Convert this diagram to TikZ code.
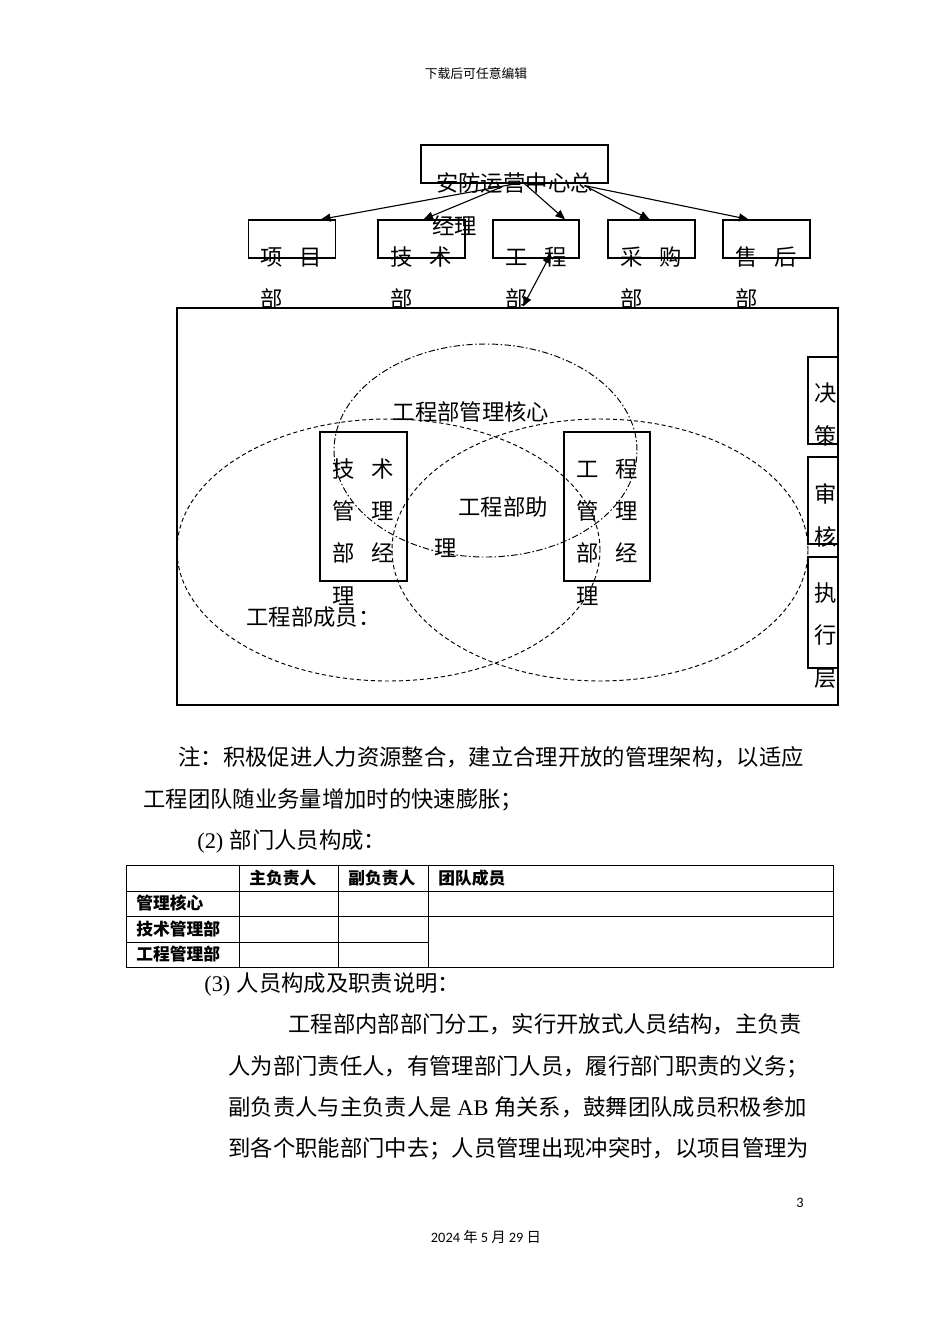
\documentclass[tikz,border=0pt]{standalone}
\usepackage{fontspec}
\setmainfont{Noto Sans CJK SC}
\newfontfamily\latser{Liberation Serif}
\newfontfamily\latsans{Carlito}
\usetikzlibrary{arrows.meta,calc,shapes.geometric}
\newcommand\bodysz{\fontsize{14pt}{16pt}\selectfont}
\def\pxu{0.6266pt}
\begin{document}
\begin{tikzpicture}[x=0.6266pt,y=-0.6266pt,
  bx/.style 2 args={draw, line width=0.8pt, inner sep=0, minimum width=#1*\pxu, minimum height=#2*\pxu},
  el/.style 2 args={draw, ellipse, inner sep=0, line width=0.6pt, minimum width=#1*\pxu, minimum height=#2*\pxu},
  dd/.style={dash pattern=on 4pt off 1.5pt on 1pt off 1.5pt},
  memb/.style={dash pattern=on 2.6pt off 1.8pt},
  ch/.style={inner sep=0, font=\bodysz, text height=11.6pt, text depth=1pt},
  ln/.style={ch, anchor=west},
  tb/.style={inner sep=0, anchor=west, font=\fontsize{10.5pt}{12pt}\selectfont\bfseries, text height=8.7pt, text depth=0.7pt},
  arr/.style={line width=0.7pt, -{Triangle[length=6pt,width=5pt]}},
  darr/.style={line width=0.7pt, {Triangle[length=6pt,width=5pt]}-{Triangle[length=6pt,width=5pt]}},
  tl/.style={line width=0.6pt}]
\useasboundingbox (0,0) rectangle (950,1344);
\fill[white] (0,0) rectangle (950,1344);

% header
\node[inner sep=0, font=\fontsize{8pt}{9pt}\selectfont] (hdr) at (476,74) {下载后可任意编辑};

% top box
\node[bx={187}{38}] (gm) at (514.5,164) {};
\node[ch] (gmt1) at (514.5,183) {安防运营中心总};
\node[ln] (gmt2) at (432,226) {经理};

% department boxes
\node[bx={87}{38}] (xm) at (292,239) {};
\node[bx={87}{38}] (js) at (421.5,239) {};
\node[bx={86}{38}] (gc) at (536,239) {};
\node[bx={87}{38}] (cg) at (651.5,239) {};
\node[bx={87}{38}] (sh) at (766.5,239) {};

\node[ch] (xm1) at (272,257) {项}; \node[ch] (xm2) at (311,257) {目}; \node[ch] (xm3) at (272,299) {部};
\node[ch] (js1) at (402,257) {技}; \node[ch] (js2) at (441,257) {术}; \node[ch] (js3) at (402,299) {部};
\node[ch] (gc1) at (517,257) {工}; \node[ch] (gc2) at (556,257) {程}; \node[ch] (gc3) at (517,299) {部};
\node[ch] (cg1) at (632,257) {采}; \node[ch] (cg2) at (671,257) {购}; \node[ch] (cg3) at (632,299) {部};
\node[ch] (sh1) at (747,257) {售}; \node[ch] (sh2) at (786,257) {后}; \node[ch] (sh3) at (747,299) {部};

% frame
\node[bx={661}{397}] (frame) at (507.5,506.5) {};

% arrows
\draw[arr] ($(gm.south)+(2,0)$) -- ($(xm.north)+(29,0)$);
\draw[arr] ($(gm.south)+(-12,3)$) -- ($(js.north)+(2,0)$);
\draw[arr] ($(gm.south)+(10,0)$) -- ($(gc.north)+(29,0)$);
\draw[arr] ($(gm.south)+(70,2)$) -- ($(cg.north)+(-2,0)$);
\draw[arr] ($(gm.south)+(70,2)$) -- ($(sh.north)+(-18,0)$);
\draw[darr] ($(gc.south)+(15,-5)$) -- ($(frame.north)+(15.5,-1)$);

% ellipses
\node[el={303}{213}, dd] (core) at (485.5,450.5) {};
\node[el={423}{262}, memb] (lm) at (388.5,550) {};
\node[el={416}{262}, memb] (rm) at (600,550) {};

% inner boxes
\node[bx={87}{149}] (jsm) at (363.5,506.5) {};
\node[bx={86}{149}] (gcm) at (607,506.5) {};
\node[ch] (jsm1) at (344,469) {技}; \node[ch] (jsm2) at (383,469) {术};
\node[ch] (jsm3) at (344,511) {管}; \node[ch] (jsm4) at (383,511) {理};
\node[ch] (jsm5) at (344,553) {部}; \node[ch] (jsm6) at (383,553) {经};
\node[ch] (jsm7) at (344,596) {理};
\node[ch] (gcm1) at (588,469) {工}; \node[ch] (gcm2) at (627,469) {程};
\node[ch] (gcm3) at (588,511) {管}; \node[ch] (gcm4) at (627,511) {理};
\node[ch] (gcm5) at (588,553) {部}; \node[ch] (gcm6) at (627,553) {经};
\node[ch] (gcm7) at (588,596) {理};

% labels
\node[ch] (coret) at (471,412) {工程部管理核心};
\node[ln] (zl1) at (458,507) {工程部助};
\node[ln] (zl2) at (434,548) {理};
\node[ln] (cy) at (246,617) {工程部成员：};

% right-side boxes
\node[bx={30}{87}] (jc) at (823,400.5) {};
\node[bx={30}{87}] (shh) at (823,500.5) {};
\node[bx={30}{111}] (zx) at (823,612.5) {};
\node[ch] (jc1) at (826,393) {决}; \node[ch] (jc2) at (826,436) {策};
\node[ch] (shh1) at (826,494) {审}; \node[ch] (shh2) at (826,537) {核};
\node[ch] (zx1) at (826,593) {执}; \node[ch] (zx2) at (826,635) {行}; \node[ch] (zx3) at (826,678) {层};

% body text
\node[ln] (p1) at (178,757) {注：积极促进人力资源整合，建立合理开放的管理架构，以适应};
\node[ln] (p2) at (143,799) {工程团队随业务量增加时的快速膨胀；};
\node[ln] (p3) at (197,840) {\makebox[1.45em][l]{\latser (2)}部门人员构成：};

% table
\draw[tl] (126,865) rectangle (833,967);
\draw[tl] (126,891) -- (833,891);
\draw[tl] (126,916) -- (833,916);
\draw[tl] (126,942) -- (428,942);
\draw[tl] (239,865) -- (239,967);
\draw[tl] (338,865) -- (338,967);
\draw[tl] (428,865) -- (428,967);
\node[tb] (th1) at (249,878) {主负责人};
\node[tb] (th2) at (348,878) {副负责人};
\node[tb] (th3) at (438,878) {团队成员};
\node[tb] (tr1) at (136,903) {管理核心};
\node[tb] (tr2) at (136,929) {技术管理部};
\node[tb] (tr3) at (136,954) {工程管理部};

\node[ln] (p4) at (204,983) {\makebox[1.45em][l]{\latser (3)}人员构成及职责说明：};
\node[ln] (p5) at (288,1024) {工程部内部部门分工，实行开放式人员结构，主负责};
\node[ln] (p6) at (228,1066) {人为部门责任人，有管理部门人员，履行部门职责的义务；};
\node[ln] (p7) at (228,1107) {副负责人与主负责人是\makebox[1.9em]{\latser AB}角关系，鼓舞团队成员积极参加};
\node[ln] (p8) at (228,1148) {到各个职能部门中去；人员管理出现冲突时，以项目管理为};

% footer
\node[inner sep=0, font=\fontsize{9pt}{10pt}\selectfont\latsans] (pg) at (800,1203) {3};
\node[inner sep=0, font=\fontsize{9pt}{10pt}\selectfont] (dt) at (486,1237) {{\latsans 2024} 年 {\latsans 5} 月 {\latsans 29} 日};
\end{tikzpicture}
\end{document}
